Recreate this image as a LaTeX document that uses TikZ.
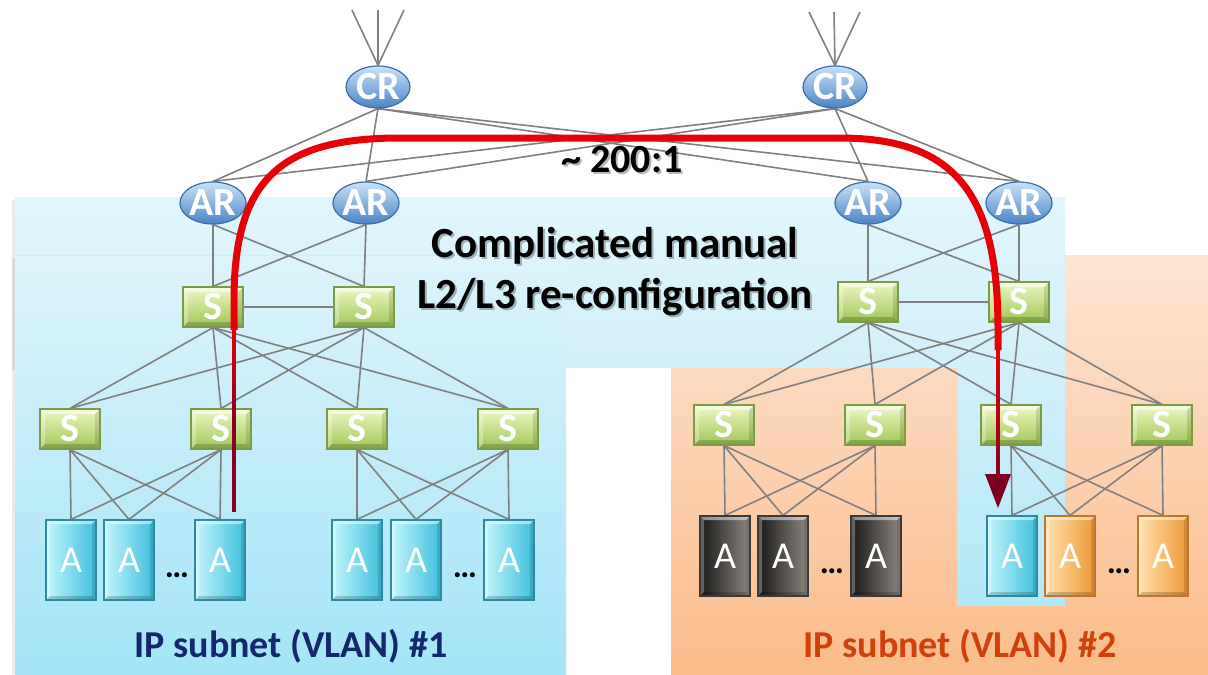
\documentclass[tikz,border=0pt]{standalone}
\usepackage{fontspec}
\setmainfont{Carlito}
\usetikzlibrary{shapes.geometric}

\definecolor{linegray}{HTML}{808080}
\definecolor{rtop}{HTML}{C8E2F8}
\definecolor{rbot}{HTML}{4A84C6}
\definecolor{redge}{HTML}{3D6EA6}
\definecolor{stop}{HTML}{EEF8C4}
\definecolor{sbot}{HTML}{9EC655}
\definecolor{sedge}{HTML}{7C9C44}
\definecolor{acl}{HTML}{C2F6FD}
\definecolor{acr}{HTML}{3EBFDC}
\definecolor{acd}{HTML}{2E8AA3}
\definecolor{akl}{HTML}{181818}
\definecolor{akr}{HTML}{8E8780}
\definecolor{akd}{HTML}{3A3A3A}
\definecolor{aol}{HTML}{FFE2AE}
\definecolor{aor}{HTML}{EF9735}
\definecolor{aod}{HTML}{C07628}
\definecolor{panelblue}{HTML}{DDF4FB}
\definecolor{panelbluelow}{HTML}{A4E4F8}
\definecolor{paneltop}{HTML}{E1F6FC}
\definecolor{panelmid}{HTML}{D2F0FA}
\definecolor{stripblue}{HTML}{B2E8F8}
\definecolor{orangetop}{HTML}{FDE5D4}
\definecolor{orangelow}{HTML}{FBBC8A}
\definecolor{pathred}{HTML}{E80008}
\definecolor{pathdark}{HTML}{8A0024}
\definecolor{navy}{HTML}{14286E}
\definecolor{rust}{HTML}{D0400A}

\pgfdeclarelayer{panels}
\pgfdeclarelayer{links}
\pgfsetlayers{panels,links,main}

\begin{document}
\begin{tikzpicture}[x=0.5pt,y=-0.5pt,
  link/.style={draw=linegray, line width=0.8pt},
  % raised-edge look for the switch and application boxes
  bevel/.style={path picture={
    \fill[white, opacity=0.5]
      (path picture bounding box.north west) -- (path picture bounding box.north east)
      -- ([xshift=-#1,yshift=-#1]path picture bounding box.north east)
      -- ([xshift=#1,yshift=-#1]path picture bounding box.north west) -- cycle;
    \fill[white, opacity=0.3]
      (path picture bounding box.north west) -- (path picture bounding box.south west)
      -- ([xshift=#1,yshift=#1]path picture bounding box.south west)
      -- ([xshift=#1,yshift=-#1]path picture bounding box.north west) -- cycle;
    \fill[black, opacity=0.18]
      (path picture bounding box.south west) -- (path picture bounding box.south east)
      -- ([xshift=-#1,yshift=#1]path picture bounding box.south east)
      -- ([xshift=#1,yshift=#1]path picture bounding box.south west) -- cycle;
    \fill[black, opacity=0.12]
      (path picture bounding box.north east) -- (path picture bounding box.south east)
      -- ([xshift=-#1,yshift=#1]path picture bounding box.south east)
      -- ([xshift=-#1,yshift=-#1]path picture bounding box.north east) -- cycle;
  }},
  router/.style={ellipse, minimum width=32pt, minimum height=21pt, inner sep=0pt,
    top color=rtop, bottom color=rbot, draw=redge, line width=0.6pt,
    text=white, font=\bfseries\fontsize{20}{20}\selectfont},
  switchbox/.style={rectangle, minimum width=30pt, minimum height=20pt, inner sep=0pt,
    top color=stop, bottom color=sbot, draw=sedge, line width=0.6pt, bevel=2.5pt,
    text=white, font=\bfseries\fontsize{20}{20}\selectfont},
  appbox/.style={rectangle, minimum width=25pt, minimum height=40pt, inner sep=0pt,
    line width=0.6pt, bevel=2pt, text=white, font=\fontsize{19}{19}\selectfont},
  appcyan/.style={appbox, left color=acl, right color=acr, draw=acd},
  appblack/.style={appbox, left color=akl, right color=akr, draw=akd},
  apporange/.style={appbox, left color=aol, right color=aor, draw=aod},
  dots/.style={font=\bfseries\fontsize{17}{17}\selectfont, inner sep=0pt},
  headline/.style={font=\bfseries\fontsize{21.5}{21.5}\selectfont, inner sep=0pt},
  tshadow/.style={text=black, opacity=0.28},
  ratiofont/.style={font=\bfseries\fontsize{20}{20}\selectfont, inner sep=0pt},
  subnetlabel/.style={font=\bfseries\fontsize{19}{19}\selectfont, inner sep=0pt}
]
\useasboundingbox (0,0) rectangle (1208,674);

% ---------- background panels ----------
\begin{pgfonlayer}{panels}
\shade[top color=orangetop, bottom color=orangelow] (671,255) rectangle (1208,674);
\fill[black, opacity=0.08] (12,200) rectangle (15,370);
\shade[top color=paneltop, bottom color=panelmid] (15,197) rectangle (1065,367);
\fill[black, opacity=0.08] (12,258) rectangle (15,674);
\shade[top color=panelblue, bottom color=panelbluelow] (15,255) rectangle (566,674);
\draw[black!10, line width=0.5pt] (15,255) -- (566,255);
\shade[top color=panelmid, bottom color=stripblue] (957,367) rectangle (1065,605);
\end{pgfonlayer}

% ---------- nodes ----------
\node[router] (cr1) at (378,87) {CR};
\node[router] (cr2) at (835,87) {CR};

\node[router] (ar1) at (213,203) {AR};
\node[router] (ar2) at (366,203) {AR};
\node[router] (ar3) at (868,203) {AR};
\node[router] (ar4) at (1019,203) {AR};

\node[switchbox] (su1) at (213,307) {S};
\node[switchbox] (su2) at (364,307) {S};
\node[switchbox] (su3) at (868,302) {S};
\node[switchbox] (su4) at (1019,302) {S};

\node[switchbox] (ls1) at (70,429) {S};
\node[switchbox] (ls2) at (221,429) {S};
\node[switchbox] (ls3) at (357,429) {S};
\node[switchbox] (ls4) at (508,429) {S};
\node[switchbox] (rs1) at (724,425) {S};
\node[switchbox] (rs2) at (875,425) {S};
\node[switchbox] (rs3) at (1011,425) {S};
\node[switchbox] (rs4) at (1162,425) {S};

\node[appcyan] (a1) at (71,560) {A};
\node[appcyan] (a2) at (129,560) {A};
\node[appcyan] (a3) at (220,560) {A};
\node[appcyan] (a4) at (357,560) {A};
\node[appcyan] (a5) at (416,560) {A};
\node[appcyan] (a6) at (509,560) {A};
\node[appblack] (b1) at (725,556) {A};
\node[appblack] (b2) at (783,556) {A};
\node[appblack] (b3) at (876,556) {A};
\node[appcyan] (b4) at (1012,556) {A};
\node[apporange] (b5) at (1070,556) {A};
\node[apporange] (b6) at (1163,556) {A};

\node[dots] (d1) at (177,575) {\dots};
\node[dots] (d2) at (465,575) {\dots};
\node[dots] (d3) at (832,571) {\dots};
\node[dots] (d4) at (1119,571) {\dots};

% ---------- links ----------
\coordinate (u1) at (352,10);
\coordinate (u2) at (378,10);
\coordinate (u3) at (404,10);
\coordinate (v1) at (809,12);
\coordinate (v2) at (834,12);
\coordinate (v3) at (860,12);

\begin{pgfonlayer}{links}
\foreach \t in {u1,u2,u3} \draw[link] (cr1.north) -- (\t);
\foreach \t in {v1,v2,v3} \draw[link] (cr2.north) -- (\t);

\foreach \c in {cr1,cr2}
  \foreach \a in {ar1,ar2,ar3,ar4}
    \draw[link] (\c.south) -- (\a.north);

\foreach \a in {ar1,ar2}
  \foreach \s in {su1,su2}
    \draw[link] (\a.south) -- (\s.north);
\foreach \a in {ar3,ar4}
  \foreach \s in {su3,su4}
    \draw[link] (\a.south) -- (\s.north);
\draw[link] (su1.east) -- (su2.west);
\draw[link] (su3.east) -- (su4.west);

\foreach \s in {su1,su2}
  \foreach \l in {ls1,ls2,ls3,ls4}
    \draw[link] (\s.south) -- (\l.north);
\foreach \s in {su3,su4}
  \foreach \l in {rs1,rs2,rs3,rs4}
    \draw[link] (\s.south) -- (\l.north);

\foreach \s in {ls1,ls2}
  \foreach \a in {a1,a2,a3}
    \draw[link] (\s.south) -- (\a.north);
\foreach \s in {ls3,ls4}
  \foreach \a in {a4,a5,a6}
    \draw[link] (\s.south) -- (\a.north);
\foreach \s in {rs1,rs2}
  \foreach \a in {b1,b2,b3}
    \draw[link] (\s.south) -- (\a.north);
\foreach \s in {rs3,rs4}
  \foreach \a in {b4,b5,b6}
    \draw[link] (\s.south) -- (\a.north);
\end{pgfonlayer}

% ---------- migration path ----------
\coordinate (pstart) at (234,512);
\coordinate (pend) at (998,508);
\draw[pathred, line width=3.5pt]
  (234,330) -- (234,300) .. controls (234,180) and (280,138) .. (400,138)
  -- (840,138) .. controls (960,138) and (998,200) .. (998,330) -- (998,350);
\shade[top color=pathred, bottom color=pathdark] (232.25,328) rectangle (235.75,420);
\fill[pathdark] (232.25,419) rectangle (pstart -| 235.75,0);
\shade[top color=pathred, bottom color=pathdark] (996.25,348) rectangle (999.75,476);
\fill[pathdark!90!black] (985,474) -- (1011,474) -- (pend) -- cycle;

% ---------- labels ----------
\node[headline, tshadow] (h1s) at (617,248) {Complicated manual};
\node[headline, tshadow] (h2s) at (617,299) {L2/L3 re-configuration};
\node[headline] (h1) at (615,246) {Complicated manual};
\node[headline] (h2) at (615,297) {L2/L3 re-configuration};

\node[ratiofont, tshadow] (rs) at (624,162) {\textasciitilde\ 200:1};
\node[ratiofont] (ratio) at (622,160) {\textasciitilde\ 200:1};

\node[subnetlabel, text=navy] (n1) at (291,646) {IP subnet (VLAN) \#1};
\node[subnetlabel, text=rust] (n2) at (960,646) {IP subnet (VLAN) \#2};
\end{tikzpicture}
\end{document}
